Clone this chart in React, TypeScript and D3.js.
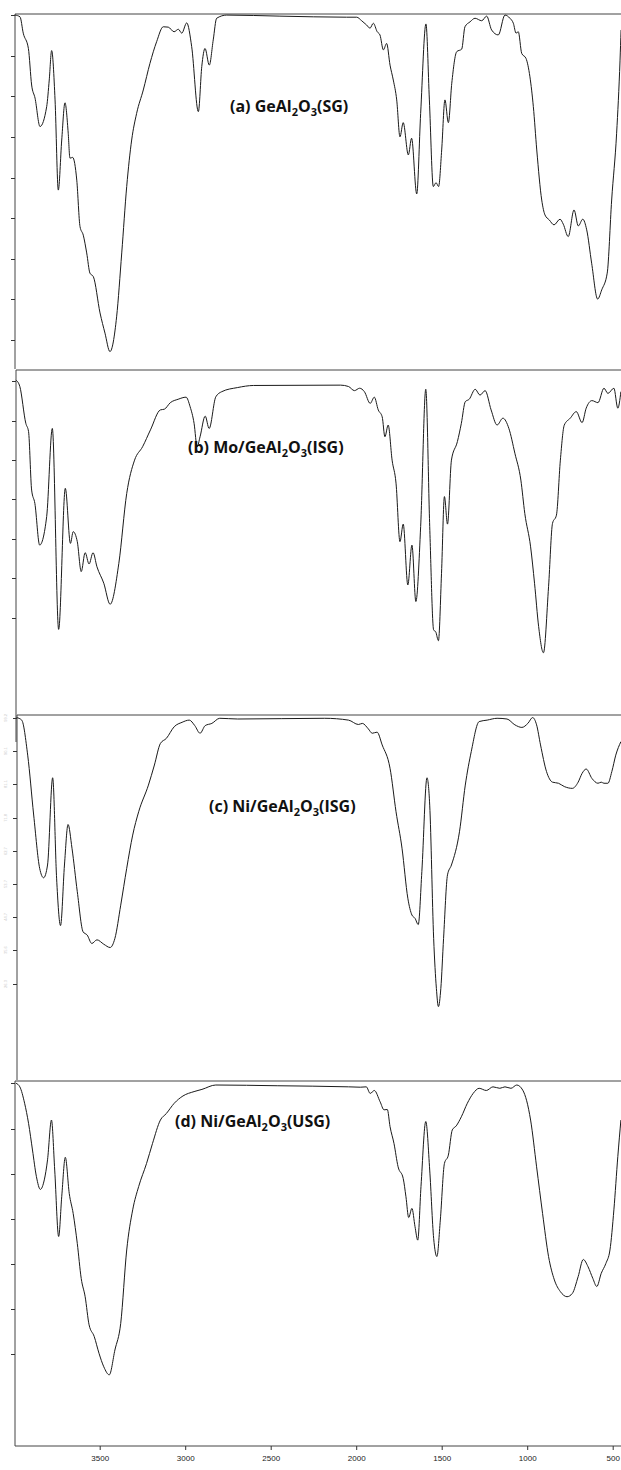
import * as d3 from "d3";
import { useEffect, useRef } from "react";

// FTIR spectra, [wavenumber cm-1, transmittance (panel %)]
const specA: [number, number][] = [
  [3998, 99.7], [3969, 99.2], [3950, 94.6], [3920, 90.3], [3901, 80.0], [3881, 76.3],
  [3852, 68.3], [3813, 73.9], [3798, 81.4], [3784, 89.7], [3764, 75.8], [3745, 50.4],
  [3725, 64.5], [3706, 75.0], [3687, 66.4], [3677, 59.4], [3661, 59.6], [3637, 53.2],
  [3618, 40.1], [3599, 37.7], [3579, 32.7], [3560, 27.0], [3540, 26.0], [3501, 15.8],
  [3472, 10.1], [3443, 4.9], [3404, 14.7], [3374, 32.7], [3345, 51.4], [3316, 64.5],
  [3287, 72.0], [3248, 78.6], [3209, 86.1], [3170, 92.2], [3131, 96.4], [3102, 96.3],
  [3068, 95.0], [3043, 95.7], [3023, 94.6], [2994, 97.5], [2965, 90.8], [2926, 72.5],
  [2906, 85.2], [2887, 90.3], [2862, 85.6], [2839, 92.7], [2819, 98.8], [2760, 99.7],
  [2449, 99.4], [2059, 99.1], [2000, 99.1], [1971, 98.1], [1942, 96.9], [1922, 96.0],
  [1903, 97.4], [1880, 95.0], [1864, 94.1], [1844, 89.9], [1825, 91.7], [1805, 85.6],
  [1786, 81.4], [1766, 75.8], [1747, 65.4], [1728, 69.4], [1698, 60.3], [1679, 65.0],
  [1649, 49.3], [1626, 72.0], [1595, 97.2], [1575, 75.8], [1552, 51.4], [1536, 52.5],
  [1521, 51.4], [1503, 61.7], [1484, 75.8], [1464, 69.4], [1444, 80.5], [1415, 89.4],
  [1386, 90.1], [1367, 96.4], [1337, 97.8], [1308, 98.8], [1269, 98.1], [1240, 99.4],
  [1211, 95.5], [1172, 94.1], [1133, 99.7], [1104, 98.8], [1084, 97.4], [1068, 94.6],
  [1055, 95.0], [1035, 88.9], [1010, 87.5], [987, 82.3], [967, 73.9], [947, 61.7],
  [918, 47.6], [899, 43.4], [874, 42.0], [846, 40.6], [811, 42.2], [792, 40.8],
  [763, 37.3], [729, 44.8], [704, 40.3], [678, 42.2], [655, 39.2], [626, 29.8],
  [591, 19.7], [567, 22.3], [535, 27.0], [509, 47.6], [480, 66.4], [460, 87.0], [454, 95.5],
];

const specB: [number, number][] = [
  [3993, 97.1], [3970, 95.2], [3935, 84.5], [3919, 82.1], [3901, 65.1], [3882, 61.2],
  [3854, 49.1], [3813, 57.4], [3780, 83.0], [3743, 24.6], [3704, 65.6], [3674, 49.6],
  [3658, 53.0], [3634, 50.1], [3611, 41.4], [3588, 46.9], [3565, 43.6], [3542, 46.9],
  [3519, 42.8], [3479, 38.0], [3442, 31.9], [3391, 43.8], [3345, 64.1], [3299, 73.8],
  [3252, 77.7], [3206, 82.6], [3148, 88.4], [3125, 88.6], [3090, 90.5], [3044, 91.5],
  [2998, 92.1], [2974, 89.3], [2951, 84.5], [2933, 77.7], [2916, 80.6], [2886, 86.6],
  [2863, 83.0], [2824, 92.2], [2789, 93.7], [2696, 94.9], [2604, 95.5], [2094, 95.6],
  [2048, 95.2], [2013, 94.0], [1983, 94.7], [1955, 93.7], [1921, 90.3], [1897, 92.1],
  [1874, 88.4], [1851, 86.4], [1835, 80.6], [1816, 84.0], [1793, 73.8], [1770, 67.1],
  [1747, 50.1], [1728, 55.2], [1701, 37.5], [1677, 49.1], [1654, 32.7], [1626, 54.5],
  [1596, 94.4], [1573, 54.5], [1550, 24.4], [1538, 23.9], [1522, 21.3], [1504, 40.9],
  [1487, 63.2], [1469, 55.2], [1446, 73.8], [1411, 79.2], [1388, 84.5], [1365, 90.8],
  [1342, 91.5], [1307, 94.4], [1279, 92.7], [1249, 94.0], [1214, 88.4], [1179, 84.0],
  [1145, 86.0], [1110, 83.0], [1075, 75.8], [1040, 68.0], [1017, 58.3], [983, 48.6],
  [960, 38.0], [936, 25.4], [908, 17.8], [878, 37.0], [855, 55.4], [832, 57.8],
  [809, 73.8], [786, 84.0], [751, 86.0], [716, 87.9], [682, 84.7], [658, 88.9],
  [624, 91.1], [589, 90.5], [554, 94.7], [531, 93.2], [496, 94.7], [473, 88.9], [455, 93.7],
];

const specC: [number, number][] = [
  [3989, 99.3], [3959, 98.6], [3924, 89.0], [3889, 72.6], [3854, 58.0], [3831, 55.4],
  [3808, 58.9], [3778, 82.8], [3755, 55.3], [3732, 42.3], [3709, 58.9], [3688, 70.0],
  [3665, 63.5], [3634, 51.6], [3600, 40.6], [3576, 39.7], [3549, 37.4], [3519, 38.4],
  [3479, 37.2], [3442, 36.3], [3414, 38.8], [3380, 47.9], [3345, 58.0], [3310, 67.1],
  [3275, 73.5], [3218, 80.8], [3183, 86.3], [3148, 92.2], [3113, 93.6], [3067, 96.8],
  [3021, 98.0], [2979, 98.6], [2947, 97.1], [2916, 95.0], [2886, 97.1], [2847, 97.7],
  [2801, 99.1], [2696, 98.9], [2187, 99.1], [2048, 98.6], [1990, 97.4], [1967, 97.7],
  [1932, 96.2], [1909, 95.0], [1881, 95.3], [1851, 91.8], [1805, 85.4], [1770, 73.5],
  [1735, 63.5], [1701, 49.8], [1677, 45.2], [1659, 44.3], [1640, 42.6], [1619, 57.1],
  [1589, 82.8], [1573, 75.3], [1550, 38.8], [1534, 25.1], [1522, 20.1], [1508, 25.1],
  [1492, 38.8], [1469, 56.2], [1446, 58.9], [1399, 68.0], [1365, 80.8], [1330, 90.0],
  [1284, 98.2], [1237, 98.6], [1179, 99.1], [1121, 98.9], [1075, 97.3], [1034, 96.6],
  [999, 97.7], [971, 99.3], [948, 97.3], [925, 91.8], [890, 84.5], [855, 81.6],
  [820, 81.3], [786, 80.4], [739, 79.9], [705, 81.6], [682, 84.0], [658, 85.2],
  [624, 82.6], [589, 81.3], [570, 81.6], [554, 81.3], [531, 81.3], [508, 84.5],
  [485, 89.0], [455, 92.7],
];

const specD: [number, number][] = [
  [3993, 99.4], [3970, 98.4], [3942, 93.9], [3919, 88.4], [3896, 81.1], [3873, 73.8],
  [3850, 70.3], [3827, 72.9], [3808, 78.4], [3785, 89.3], [3766, 75.6], [3743, 57.4],
  [3725, 68.3], [3704, 79.1], [3681, 69.2], [3658, 63.7], [3634, 55.5], [3611, 45.9],
  [3588, 40.9], [3565, 33.2], [3535, 30.0], [3507, 25.4], [3479, 21.7], [3447, 19.5],
  [3414, 26.3], [3380, 33.6], [3345, 53.7], [3310, 64.7], [3275, 71.1], [3229, 77.4],
  [3194, 82.9], [3148, 89.3], [3113, 91.1], [3067, 93.9], [3016, 95.9], [2951, 97.1],
  [2905, 97.7], [2824, 98.9], [2465, 98.7], [2048, 98.4], [1979, 98.3], [1944, 98.4],
  [1921, 96.6], [1897, 97.4], [1863, 94.3], [1840, 92.1], [1821, 92.2], [1805, 87.5],
  [1782, 82.9], [1758, 76.5], [1728, 73.3], [1712, 68.3], [1696, 62.6], [1677, 65.1],
  [1659, 60.1], [1643, 56.4], [1624, 71.1], [1596, 88.9], [1573, 75.6], [1550, 56.9],
  [1531, 51.9], [1511, 61.9], [1487, 77.4], [1464, 79.7], [1441, 86.6], [1418, 87.7],
  [1388, 90.2], [1353, 93.9], [1319, 96.6], [1284, 98.0], [1242, 97.4], [1203, 98.4],
  [1163, 98.0], [1133, 98.4], [1098, 98.0], [1064, 98.9], [1029, 97.5], [983, 89.3],
  [948, 76.5], [913, 63.7], [878, 51.9], [844, 45.5], [809, 42.3], [770, 40.9],
  [739, 41.8], [705, 46.4], [675, 51.1], [647, 49.1], [619, 45.9], [596, 43.7],
  [570, 47.3], [543, 50.0], [519, 53.7], [496, 64.7], [473, 79.3], [455, 89.3],
];

// unlabeled y ticks of each panel (same units as the spectra)
const ticksA = [99.7, 88.3, 76.8, 65.4, 53.9, 42.5, 31.0, 19.6, 8.2];
const ticksB = [96.8, 85.2, 73.8, 62.5, 50.9, 39.5, 27.9];
const ticksC = [99.2, 90.1, 81.1, 71.8, 62.7, 53.7, 44.7, 35.6, 26.3];
const ticksD = [99.5, 86.8, 74.5, 62.2, 49.9, 37.5, 25.2];

const xTicks = [3500, 3000, 2500, 2000, 1500, 1000, 500];

// label parts: [text, subscript?]
const labelA: [string, boolean][] = [["(a) GeAl", false], ["2", true], ["O", false], ["3", true], ["(SG)", false]];
const labelB: [string, boolean][] = [["(b) Mo/GeAl", false], ["2", true], ["O", false], ["3", true], ["(ISG)", false]];
const labelC: [string, boolean][] = [["(c) Ni/GeAl", false], ["2", true], ["O", false], ["3", true], ["(ISG)", false]];
const labelD: [string, boolean][] = [["(d) Ni/GeAl", false], ["2", true], ["O", false], ["3", true], ["(USG)", false]];

const W = 621;
const H = 1470;

const App = () => {
  const svgRef = useRef<SVGSVGElement>(null);

  useEffect(() => {
    const svg = d3.select(svgRef.current);
    svg.selectAll("*").remove();

    // wavenumber axis, decreasing to the right
    const x = d3.scaleLinear().domain([4000, 400]).range([14.7, 630.3]);

    const panels = [
      { data: specA, ticks: ticksA, label: labelA, top: 14, bottom: 369, axisX: 15, axisEnd: 369, lx: 230, ly: 112, faint: false },
      { data: specB, ticks: ticksB, label: labelB, top: 370, bottom: 714, axisX: 16, axisEnd: 742, lx: 188, ly: 453, faint: false },
      { data: specC, ticks: ticksC, label: labelC, top: 715, bottom: 1080, axisX: 17, axisEnd: 1080, lx: 209, ly: 812, faint: true },
      { data: specD, ticks: ticksD, label: labelD, top: 1081, bottom: 1446, axisX: 15, axisEnd: 1446, lx: 175, ly: 1127, faint: false },
    ];

    panels.forEach((p) => {
      const y = d3.scaleLinear().domain([0, 100]).range([p.bottom, p.top]);
      const g = svg.append("g");

      // frame: top rule and left axis
      g.append("line")
        .attr("x1", p.axisX).attr("x2", W)
        .attr("y1", p.top).attr("y2", p.top)
        .attr("stroke", "#444").attr("stroke-width", 1);
      g.append("line")
        .attr("x1", p.axisX).attr("x2", p.axisX)
        .attr("y1", p.top).attr("y2", p.axisEnd)
        .attr("stroke", "#444").attr("stroke-width", 1);

      g.selectAll(".tick")
        .data(p.ticks)
        .enter()
        .append("line")
        .attr("x1", p.axisX - 4).attr("x2", p.axisX)
        .attr("y1", (d) => Math.round(y(d)) + 0.5)
        .attr("y2", (d) => Math.round(y(d)) + 0.5)
        .attr("stroke", "#333");

      // panel (c) carries tiny washed-out tick labels
      if (p.faint) {
        g.selectAll(".flab")
          .data(p.ticks)
          .enter()
          .append("text")
          .attr("transform", (d) => `translate(7,${y(d)}) rotate(-90)`)
          .attr("text-anchor", "middle")
          .attr("font-family", "Liberation Sans, Arial, sans-serif")
          .attr("font-size", 4)
          .attr("fill", "#c8c8c8")
          .text((d) => d.toFixed(1));
      }

      const line = d3
        .line<[number, number]>()
        .x((d) => x(d[0]))
        .y((d) => y(d[1]))
        .curve(d3.curveMonotoneX);

      g.append("path")
        .datum(p.data)
        .attr("d", line)
        .attr("fill", "none")
        .attr("stroke", "#1a1a1a")
        .attr("stroke-width", 1);

      const t = g.append("text")
        .attr("x", p.lx)
        .attr("y", p.ly)
        .attr("font-family", "Open Sans, Noto Sans, sans-serif")
        .attr("font-weight", "bold")
        .attr("font-size", 16)
        .attr("fill", "#111");
      let shift = 0;
      p.label.forEach(([s, sub]) => {
        const target = sub ? 4 : 0;
        t.append("tspan")
          .attr("font-size", sub ? 11 : 16)
          .attr("dy", target - shift)
          .text(s);
        shift = target;
      });
    });

    // bottom wavenumber axis
    const axis = svg.append("g").attr("transform", "translate(0,1446)");
    axis.append("line")
      .attr("x1", 15).attr("x2", W)
      .attr("y1", 0).attr("y2", 0)
      .attr("stroke", "#444");
    axis.selectAll(".xt")
      .data(xTicks)
      .enter()
      .append("line")
      .attr("x1", (d) => x(d)).attr("x2", (d) => x(d))
      .attr("y1", 0).attr("y2", 4)
      .attr("stroke", "#333");
    axis.selectAll(".xl")
      .data(xTicks)
      .enter()
      .append("text")
      .attr("x", (d) => x(d))
      .attr("y", 15)
      .attr("text-anchor", "middle")
      .attr("font-family", "Liberation Sans, Arial, sans-serif")
      .attr("font-size", 8)
      .attr("fill", "#222")
      .text((d) => d);
  }, []);

  return (
    <svg
      ref={svgRef}
      width={W}
      height={H}
      style={{ position: "absolute", left: 0, top: 0, background: "white" }}
    />
  );
};

export default App;
